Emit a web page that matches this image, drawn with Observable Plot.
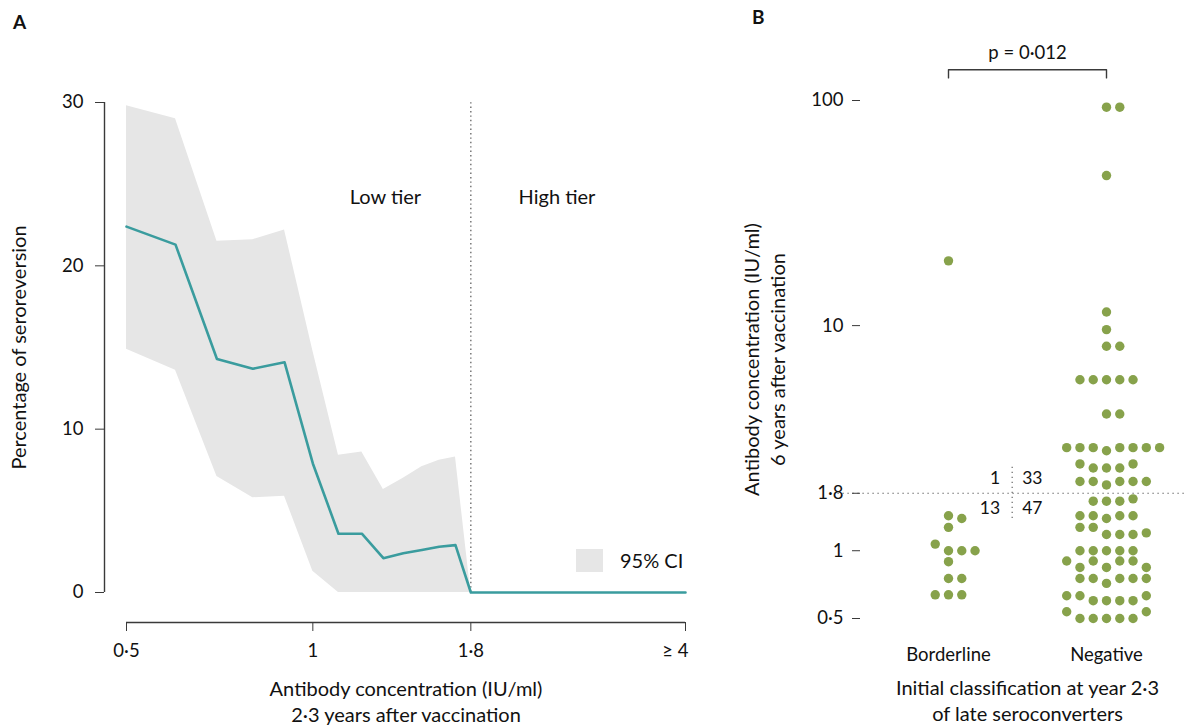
<!DOCTYPE html>
<html><head><meta charset="utf-8">
<script src="https://cdn.jsdelivr.net/npm/d3@7"></script>
<script src="https://cdn.jsdelivr.net/npm/@observablehq/plot@0.6"></script>
<style>
body{margin:0;background:#fff;}
#wrap{position:relative;width:1190px;height:727px;font-family:Lato, sans-serif;color:#111;}
#a,#b{position:absolute;top:0;}
#a{left:0;} #b{left:720px;}
.panel{position:absolute;font-weight:700;font-size:19px;}
#legend{position:absolute;left:576px;top:548px;display:flex;align-items:center;font-size:20px;}
#legend span.box{display:inline-block;width:27px;height:23px;background:#e6e6e6;margin-right:17px;}
</style></head><body>
<div id="wrap"><div id="a"></div><div id="b"></div>
<div class="panel" style="left:13px;top:10px">A</div>
<div class="panel" style="left:752px;top:5px">B</div>
<div id="legend"><span class="box"></span><span>95% CI</span></div>
</div>
<script>
// ---------- Panel A data ----------
const concentration = [0.5, 0.6, 0.7, 0.8, 0.9, 1.0, 1.1, 1.2, 1.3, 1.4, 1.5, 1.6, 1.7, 1.8, 4];
const seroreversion = [22.4, 21.3, 14.3, 13.7, 14.1, 7.9, 3.6, 3.6, 2.1, 2.4, 2.6, 2.8, 2.9, 0, 0];
const ciLower = [14.9, 13.6, 7.1, 5.8, 5.9, 1.3, 0, 0, 0, 0, 0, 0, 0, 0, 0];
const ciUpper = [29.8, 29.0, 21.5, 21.6, 22.2, 14.8, 8.4, 8.6, 6.3, 7.0, 7.7, 8.1, 8.3, 0, 0];
const xTicksA = [0.5, 1, 1.8, 4];
const yTicksA = [0, 10, 20, 30];

// ---------- Panel B data ----------
const categories = ["Borderline", "Negative"];
const borderline = [19.4, 1.43, 1.39, 1.27, 1.07, 1.0, 1.0, 1.0, 0.894, 0.753, 0.753, 0.637, 0.637, 0.637];
const negative = [
  93.4, 93.4, 46.4, 11.5, 9.6, 8.1, 8.1,
  5.75, 5.75, 5.75, 5.75, 5.75, 4.05, 4.05,
  2.87, 2.87, 2.87, 2.78, 2.87, 2.87, 2.87, 2.87,
  2.43, 2.33, 2.33, 2.33, 2.43,
  2.03, 2.03, 1.96, 2.03, 2.03, 2.03,
  1.66, 1.66, 1.66, 1.70,
  1.43, 1.43, 1.39, 1.43, 1.43,
  1.27, 1.27, 1.18, 1.18, 1.18, 1.20,
  1.0, 1.0, 1.0, 1.0, 1.0,
  0.90, 0.843, 0.90, 0.843, 0.90, 0.90, 0.843,
  0.753, 0.753, 0.716, 0.753, 0.753, 0.753,
  0.631, 0.631, 0.60, 0.60, 0.60, 0.60, 0.631,
  0.536, 0.50, 0.50, 0.50, 0.50, 0.50, 0.536
];
const yTicksB = [0.5, 1, 1.8, 10, 100];
const threshold = 1.8;
const counts = {aboveBorder: "1", aboveNeg: "33", belowBorder: "13", belowNeg: "47"};
const pLabel = "p = 0·012";

const fmt = d => String(d).replace(".", "·");
const ink = "#3a3a3a";
const font = "Lato, sans-serif";

// ---------- Panel A ----------
const rowsA = concentration.map((c, i) => ({c, p: seroreversion[i], lo: ciLower[i], hi: ciUpper[i]}));
const xMid = Math.sqrt(xTicksA[0] * xTicksA[xTicksA.length - 1]);
const A = Plot.plot({
  width: 720, height: 727,
  marginLeft: 104, marginRight: 35, marginTop: 102, marginBottom: 105,
  style: {fontFamily: font, fontSize: "18px", color: "#111", background: "transparent", overflow: "visible"},
  x: {type: "log", domain: [0.5, 4], insetLeft: 22},
  y: {domain: [0, 30], insetBottom: 30},
  marks: [
    Plot.areaY(rowsA, {x: "c", y1: "lo", y2: "hi", fill: "#e6e6e6"}),
    Plot.ruleX([threshold], {y1: 0, y2: 30, stroke: "#555", strokeWidth: 1.2, strokeDasharray: "1.4,3"}),
    Plot.line(rowsA, {x: "c", y: "p", stroke: "#3a9c9e", strokeWidth: 2.6}),
    Plot.ruleY([0], {x1: 0.5, x2: 4, dy: 30, stroke: ink, strokeWidth: 1.4}),
    Plot.ruleX([0.5], {y1: 0, y2: 30, dx: -22, stroke: ink, strokeWidth: 1.4}),
    Plot.axisX({ticks: xTicksA, tickFormat: () => "", tickSize: 9, label: null, stroke: ink}),
    Plot.text(xTicksA.slice(0, -1), {x: d => d, text: fmt, frameAnchor: "bottom", dy: 29, lineAnchor: "middle", fontSize: 18.5}),
    Plot.text(["≥ 4"], {x: xTicksA[xTicksA.length - 1], frameAnchor: "bottom", dy: 29, dx: 3, textAnchor: "end", lineAnchor: "middle", fontSize: 18.5}),
    Plot.axisY({ticks: yTicksA, tickSize: 9, tickPadding: 12, label: null, stroke: ink, fontSize: 18.5}),
    Plot.text(["Low tier"], {x: 1.31, y: 24.2, fontSize: 20}),
    Plot.text(["High tier"], {x: 2.48, y: 24.2, fontSize: 20}),
    Plot.text(["Antibody concentration (IU/ml)\n2·3 years after vaccination"], {x: xMid, frameAnchor: "bottom", dy: 78, lineAnchor: "middle", lineHeight: 1.32, fontSize: 20}),
    Plot.text(["Percentage of seroreversion"], {x: 0.5, y: 15, dx: -107, rotate: -90, fontSize: 20})
  ]
});
document.getElementById("a").appendChild(A);

// ---------- Panel B ----------
const spacing = 0.084;
function layout(values, ci) {
  const out = [];
  let row = [];
  const flush = () => {
    const k0 = Math.floor((row.length - 1) / 2);
    row.forEach((v, i) => out.push({x: ci + (i - k0) * spacing, v}));
    row = [];
  };
  for (const v of values) {
    if (row.length && Math.abs(Math.log10(v) - Math.log10(row[0])) > 0.035) flush();
    row.push(v);
  }
  flush();
  return out;
}
const dots = [...layout(borderline, 0), ...layout(negative, 1)];
const yMidB = Math.sqrt(yTicksB[0] * yTicksB[yTicksB.length - 1]);
const B = Plot.plot({
  width: 470, height: 727,
  marginLeft: 140, marginRight: 5, marginTop: 100, marginBottom: 109,
  style: {fontFamily: font, fontSize: "18px", color: "#111", background: "transparent", overflow: "visible"},
  x: {domain: [0, 1], insetLeft: 88, insetRight: 79, axis: null},
  y: {type: "log", domain: [0.5, 100]},
  marks: [
    Plot.ruleY([threshold], {x1: -0.7, x2: 1.5, stroke: "#666", strokeWidth: 1.2, strokeDasharray: "1.4,3.6"}),
    Plot.ruleX([0.403], {y1: 1.39, y2: 2.39, stroke: "#666", strokeWidth: 1.2, strokeDasharray: "1.4,3.6"}),
    Plot.text([counts.aboveBorder], {x: 0.403, y: threshold, dx: -12, dy: -15, textAnchor: "end", fontSize: 17.5}),
    Plot.text([counts.belowBorder], {x: 0.403, y: threshold, dx: -12, dy: 15, textAnchor: "end", fontSize: 17.5}),
    Plot.text([counts.aboveNeg], {x: 0.403, y: threshold, dx: 10, dy: -15, textAnchor: "start", fontSize: 17.5}),
    Plot.text([counts.belowNeg], {x: 0.403, y: threshold, dx: 10, dy: 15, textAnchor: "start", fontSize: 17.5}),
    Plot.dot(dots, {x: "x", y: "v", r: 4.7, fill: "#87a24b"}),
    Plot.axisY({ticks: yTicksB, tickFormat: () => "", tickSize: 8, label: null, stroke: ink}),
    Plot.text(yTicksB, {y: d => d, text: fmt, frameAnchor: "left", dx: -17, textAnchor: "end", fontSize: 18.5}),
    Plot.text(categories, {x: (d, i) => i, frameAnchor: "bottom", dy: 37, lineAnchor: "middle", fontSize: 18.5}),
    Plot.line([{x: 0, y: 126}, {x: 0, y: 137}, {x: 1, y: 137}, {x: 1, y: 126}], {x: "x", y: "y", stroke: ink, strokeWidth: 1.4}),
    Plot.text([pLabel], {x: 0.5, y: 137, dy: -17, fontSize: 18.5}),
    Plot.text(["Initial classification at year 2·3\nof late seroconverters"], {x: 0.5, frameAnchor: "bottom", dy: 81, lineAnchor: "middle", lineHeight: 1.32, fontSize: 20}),
    Plot.text(["Antibody concentration (IU/ml)\n6 years after vaccination"], {x: 0, y: yMidB, dx: -185, rotate: -90, lineHeight: 1.32, fontSize: 20})
  ]
});
document.getElementById("b").appendChild(B);
</script>
</body></html>
